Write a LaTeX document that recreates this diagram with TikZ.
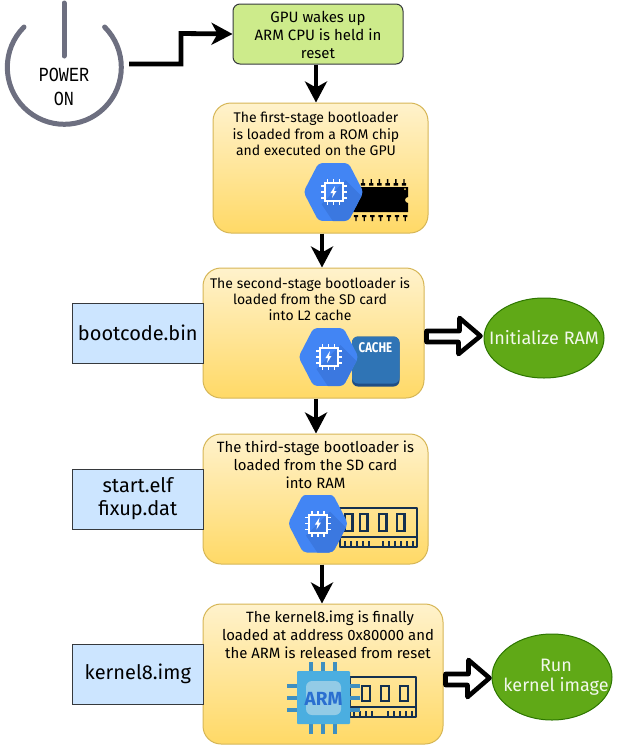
\documentclass[tikz,border=0pt]{standalone}
\usepackage{fontspec}
\setmainfont{Fira Sans}
\newfontfamily\pwrfont[FakeStretch=0.84]{Liberation Mono}
\newfontfamily\capfont[FakeStretch=0.82]{Fira Sans}
\usetikzlibrary{arrows.meta,calc,shapes.geometric}
\definecolor{greenfill}{HTML}{CDEB8B}
\definecolor{edgedark}{HTML}{36393D}
\definecolor{yellowtop}{HTML}{FFF2CC}
\definecolor{yellowbot}{HTML}{FFD966}
\definecolor{yellowedge}{HTML}{D6B656}
\definecolor{bluefill}{HTML}{CCE5FF}
\definecolor{ovalfill}{HTML}{60A917}
\definecolor{ovaledge}{HTML}{2D7600}
\definecolor{pwrgray}{HTML}{6D6F80}
\definecolor{hexblue}{HTML}{4285F4}
\definecolor{hexshade}{HTML}{3B78E0}
\definecolor{ramnavy}{HTML}{14304F}
\definecolor{cacheblue}{HTML}{2F74B5}
\definecolor{cachedark}{HTML}{1F4E85}
\definecolor{armblue}{HTML}{4BAEE0}
\definecolor{armpale}{HTML}{93CBE6}
\definecolor{armpin}{HTML}{3F8FC0}
\definecolor{armtext}{HTML}{2A6FD0}
\tikzset{
  x=1pt,y=-1pt,
  stagebox/.style={draw=yellowedge,line width=1pt,rounded corners=18pt,top color=yellowtop,bottom color=yellowbot,minimum width=#1,inner sep=0pt},
  stagetext/.style={align=center,font=\fontsize{14}{16.2}\selectfont,inner sep=0pt,text=black},
  widetext/.style={align=center,font=\fontsize{14.9}{18}\selectfont,inner sep=0pt,text=black},
  filebox/.style={draw=edgedark,line width=1pt,fill=bluefill,minimum width=131pt,minimum height=60pt,inner sep=0pt,align=center,font=\fontsize{20}{23}\selectfont},
  oval/.style={ellipse,draw=ovaledge,line width=1pt,fill=ovalfill,inner sep=0pt},
  ovaltext/.style={inner sep=0pt,align=center,text=white!92!ovalfill,font=\fontsize{18}{20}\selectfont},
  flow/.style={line width=4.8pt,-{Stealth[length=21pt,width=22pt,inset=6pt]}},
  fatarrow/.style={draw=black,fill=white,line width=4.6pt,line join=round},
  gpuicon/.pic={
    \begin{scope}
      \clip[rounded corners=4pt] (-30,0)--(-15,-29)--(15,-29)--(30,0)--(15,29)--(-15,29)--cycle;
      \fill[hexblue] (-30,-29) rectangle (30,29);
      \fill[hexshade] (12,-12)--(42,18)--(12,48)--(-12,12)--cycle;
    \end{scope}
    \draw[white,line width=2pt] (-9,-9) rectangle (9,9);
    \foreach \k in {-6,0,6}{
      \draw[white,line width=1.6pt] (\k,-9)--(\k,-13) (\k,9)--(\k,13) (-9,\k)--(-13,\k) (9,\k)--(13,\k);
    }
    \fill[white] (1.5,-6)--(-3,1)--(-0.5,1)--(-1.5,6)--(3,-1)--(0.5,-1)--cycle;
  },
  ramicon/.pic={
    \draw[ramnavy,line width=2.6pt,line join=round] (0,0) rectangle (77,39);
    \draw[ramnavy,line width=2.4pt] (0,29)--(77,29);
    \foreach \k in {5,20,39,57}{
      \draw[ramnavy,line width=2.6pt] (\k,6) rectangle ++(7.5,17);
    }
    \foreach \k in {5,11,...,29}{ \draw[ramnavy,line width=1.6pt] (\k,39)--(\k,33); }
    \foreach \k in {43,49,...,73}{ \draw[ramnavy,line width=1.6pt] (\k,39)--(\k,33); }
  },
  rampicsmall/.pic={
    \draw[ramnavy,line width=2.6pt,line join=round] (0,0) rectangle (66,40);
    \draw[ramnavy,line width=2.4pt] (0,30)--(66,30);
    \foreach \k in {12,31,50}{
      \draw[ramnavy,line width=2.6pt] (\k,9) rectangle ++(8,15);
    }
    \foreach \k in {4,10,16,22}{ \draw[ramnavy,line width=1.6pt] (\k,40)--(\k,34); }
    \foreach \k in {38,44,50,56,62}{ \draw[ramnavy,line width=1.6pt] (\k,40)--(\k,34); }
  },
}
\begin{document}
\begin{tikzpicture}
\useasboundingbox (0,0) rectangle (624,745);
% power button
\node[circle,minimum size=116pt,inner sep=0pt,align=center,font=\pwrfont\fontsize{20}{24}\selectfont] (power) at (64,87) {POWER\\ON};
\draw[pwrgray,line width=5pt,line cap=round] (24,27) arc[start angle=-135,end angle=-405,radius=57];
\draw[pwrgray,line width=5pt,line cap=round] (64,3)--(64,56);
\coordinate (powerout) at (129,64);
% boxes
\node[draw=edgedark,line width=1pt,rounded corners=7pt,fill=greenfill,minimum width=170pt,minimum height=60pt,inner sep=0pt] (wake) at (318,34) {};
\node[stagetext,font=\fontsize{15}{17.6}\selectfont] (waketext) at (318,35) {GPU wakes up\\ARM CPU is held in\\reset};
\node[stagebox=215pt,minimum height=130pt] (first) at (320.5,168) {};
\node[stagebox=221pt,minimum height=130pt] (second) at (313.5,333) {};
\node[stagebox=225pt,minimum height=130pt] (third) at (315.5,499) {};
\node[stagebox=240pt,minimum height=140pt] (fourth) at (323,674) {};
\node[stagetext] (firsttext) at (316,134) {The first-stage bootloader\\is loaded from a ROM chip\\and executed on the GPU};
\node[stagetext] (secondtext) at (310,299) {The second-stage bootloader is\\loaded from the SD card\\into L2 cache};
\node[widetext] (thirdtext) at (315.5,465) {The third-stage bootloader is\\loaded from the SD card\\into RAM};
\node[widetext] (fourthtext) at (328,635) {\hspace*{4pt}The kernel8.img is finally\\loaded at address 0x80000 and\\the ARM is released from reset};
% file boxes
\node[filebox] (boot) at (137.8,333.3) {bootcode.bin};
\node[filebox] (start) at (137.8,499) {start.elf\\fixup.dat};
\node[filebox] (kern) at (137.8,674) {kernel8.img};
% ovals
\node[oval,minimum width=120pt,minimum height=80pt] (initram) at (544,338) {};
\node[ovaltext] (initramtext) at (544,338) {Initialize RAM};
\node[oval,minimum width=120pt,minimum height=86pt] (runkern) at (552,677) {};
\node[ovaltext] (runkerntext) at (556,677) {Run\\kernel image};
% ROM chip
\foreach \k in {363,371.2,...,405}{
  \fill[black] (\k-.7,179)--(\k+.7,179)--(\k+.7,183)--(\k+2.2,183)--(\k+2.2,185.5)--(\k-2.2,185.5)--(\k-2.2,183)--(\k-.7,183)--cycle;
}
\foreach \k in {356,364.2,...,407}{
  \fill[black] (\k-2.2,215)--(\k+2.2,215)--(\k+2.2,217)--(\k+.7,217)--(\k+.7,221)--(\k-.7,221)--(\k-.7,217)--(\k-2.2,217)--cycle;
}
\fill[black] (350,187)--(408,187)--(408,197) arc[start angle=-90,end angle=-270,radius=3]--(408,212)--(350,212)--cycle;
\fill[yellowbot] (405,189) circle (1);
\pic at (333.5,192) {gpuicon};
% cache
\fill[cachedark,rounded corners=6pt] (352,336.5) rectangle (399.5,386.5);
\fill[cacheblue,rounded corners=6pt] (352,336.5) rectangle (399.5,383.5);
\node[inner sep=0pt,text=white,font=\capfont\bfseries\fontsize{14}{14}\selectfont] (cachelabel) at (375.5,347.5) {CACHE};
\pic at (328.5,357) {gpuicon};
% RAM third
\pic at (340,508) {ramicon};
\pic at (318,523.5) {gpuicon};
% ARM chip + RAM
\pic at (350,677) {rampicsmall};
\foreach \k in {311,323,335}{
  \draw[armpin,line width=4pt] (\k,662)--(\k,672) (\k,723)--(\k,734);
}
\foreach \k in {686,698,710}{
  \draw[armpin,line width=4pt] (287,\k)--(298,\k) (349,\k)--(360,\k);
}
\fill[armblue,rounded corners=1pt] (297,671) rectangle (350,724);
\fill[armpale,rounded corners=6pt] (306,681) rectangle (341,715);
\node[inner sep=0pt,text=armtext,font=\bfseries\fontsize{19}{19}\selectfont] (armlabel) at (323.5,699) {ARM};
% connectors
\draw[flow] (powerout)--(181,64)--(181,33.5)--(wake.west);
\draw[flow] ([xshift=-2pt]wake.south)--([xshift=-4.5pt]first.north);
\draw[flow] ([xshift=1.5pt]first.south)--([xshift=8.5pt]second.north);
\draw[flow] ([xshift=2.5pt]second.south)--([xshift=.5pt]third.north);
\draw[flow] ([xshift=6.5pt]third.south)--([xshift=-1pt]fourth.north);
\draw[fatarrow] ([xshift=2pt,yshift=2pt]second.east)--++(33,0)--++(0,-13)--([xshift=-3pt,yshift=2pt]initram.west)--++(-22,18)--++(0,-12)--([xshift=2pt,yshift=-9pt]second.east)--cycle;
\draw[fatarrow] ([xshift=2pt]fourth.east)--++(23,0)--++(0,-14)--([xshift=-2pt,yshift=-1pt]runkern.west)--++(-22,19)--++(0,-12)--([xshift=2pt,yshift=-11pt]fourth.east)--cycle;
\end{tikzpicture}
\end{document}
